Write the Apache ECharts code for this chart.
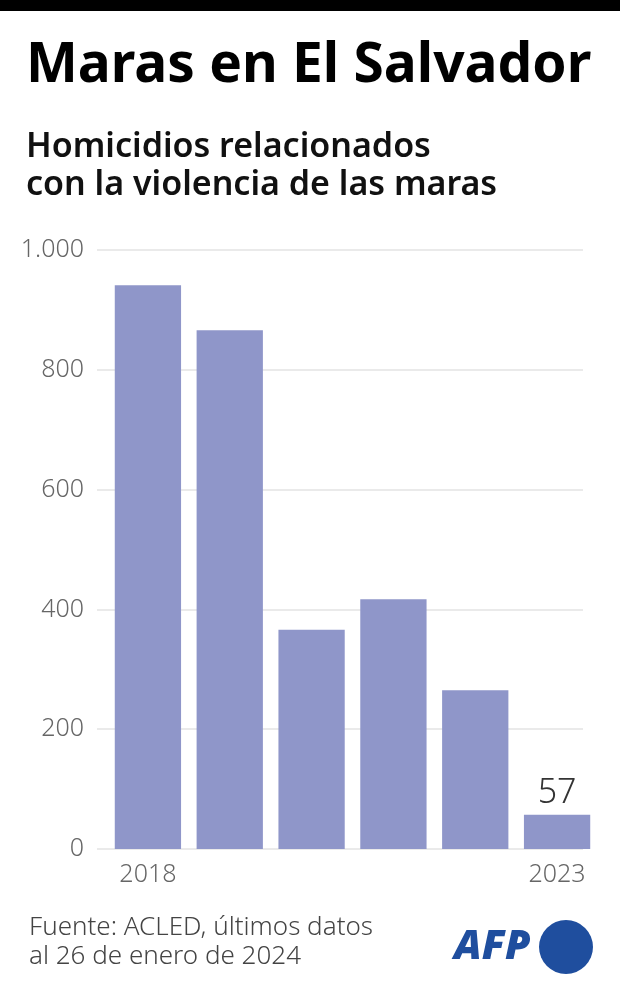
<!DOCTYPE html>
<html><head><meta charset="utf-8">
<script src="https://cdn.jsdelivr.net/npm/echarts@6/dist/echarts.min.js"></script>
<style>html,body{margin:0;padding:0;background:#fff}#c{width:620px;height:983px}</style>
</head><body><div id="c"></div>
<script>
const years = ['2018','2019','2020','2021','2022','2023'];
const homicides = [941, 866, 366, 417, 265, 57];
const shownYearLabels = ['2018','2023'];
const labelledValues = [57];
const yMin = 0, yMax = 1000, yStep = 200;

const FONT = '"Source Sans Pro","Noto Sans",sans-serif';
const chart = echarts.init(document.getElementById('c'), null, {renderer:'canvas'});
const fmt = v => v >= 1000 ? String(v).replace(/\B(?=(\d{3})+(?!\d))/g, '.') : String(v);

chart.setOption({
  animation: false,
  grid: [
    {left: 97, right: 37, top: 250, bottom: 134},
    {left: 107, right: 22, top: 250, bottom: 134}
  ],
  xAxis: [
    {gridIndex: 0, type: 'category', data: years, show: false},
    {gridIndex: 1, type: 'category', data: years,
     axisLine: {show: false}, axisTick: {show: false},
     axisLabel: {interval: 0, margin: 13, color: '#666', fontSize: 25, fontFamily: FONT, fontWeight: 300,
       formatter: v => shownYearLabels.includes(v) ? v : ''}}
  ],
  yAxis: [
    {gridIndex: 0, type: 'value', min: yMin, max: yMax, interval: yStep,
     axisLine: {show: false}, axisTick: {show: false},
     splitLine: {lineStyle: {color: '#e3e3e3', width: 1.5}},
     axisLabel: {margin: 13, color: '#666', fontSize: 25, fontFamily: FONT, fontWeight: 300, formatter: fmt}},
    {gridIndex: 1, type: 'value', min: yMin, max: yMax, interval: yStep, show: false, splitLine: {show: false}}
  ],
  series: [{
    type: 'bar', xAxisIndex: 1, yAxisIndex: 1, data: homicides,
    barCategoryGap: '19%',
    itemStyle: {color: '#8f96c9'},
    label: {show: true, position: 'top', distance: 5, color: '#333', fontSize: 34, fontFamily: FONT, fontWeight: 300,
      formatter: p => labelledValues.includes(p.value) ? String(p.value) : ''}
  }],
  graphic: [
    {type: 'rect', left: 0, top: 0, shape: {width: 620, height: 11}, style: {fill: '#000'}},
    {type: 'text', left: 26, top: 39, style: {text: 'Maras en El Salvador', font: 'bold 55px ' + FONT, fill: '#000'}},
    {type: 'text', left: 26, top: 128, style: {text: 'Homicidios relacionados\ncon la violencia de las maras', font: '600 34px ' + FONT, lineHeight: 38, fill: '#111'}},
    {type: 'text', left: 29, top: 913, style: {text: 'Fuente: ACLED, últimos datos\nal 26 de enero de 2024', font: '300 26px ' + FONT, lineHeight: 29, fill: '#444'}},
    {type: 'text', left: 454, top: 927, style: {text: 'AFP', font: 'italic 900 41px ' + FONT, fill: '#1f4e9e'}},
    {type: 'circle', shape: {cx: 566, cy: 947, r: 27}, style: {fill: '#1f4e9e'}}
  ]
});
</script></body></html>
